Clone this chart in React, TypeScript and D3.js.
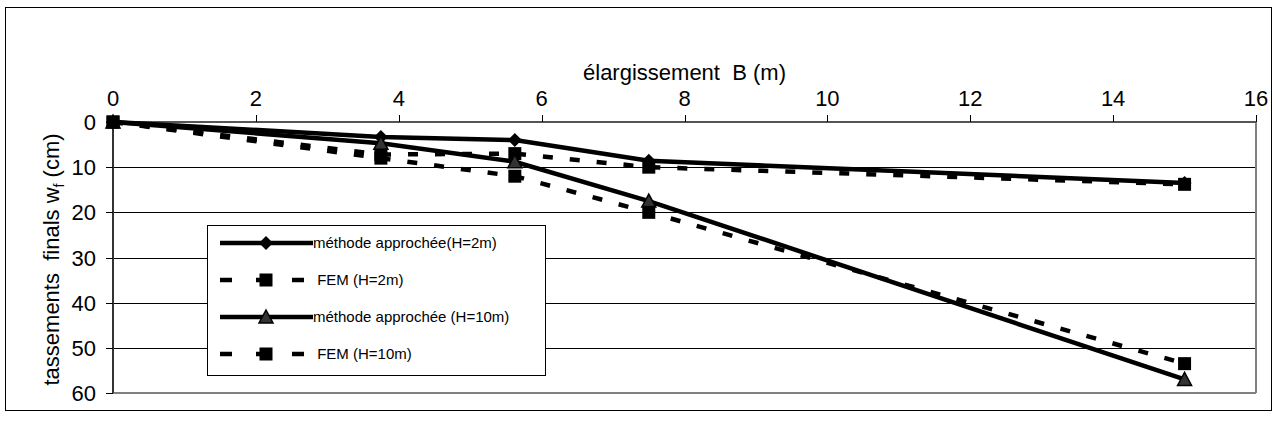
import React from "react";
import * as d3 from "d3";

const widenings = [0, 3.75, 5.625, 7.5, 15];
const approxH2 = [0, 3.3, 4.0, 8.6, 13.5];
const femH2 = [0, 7.2, 7.0, 10.0, 13.8];
const approxH10 = [0, 4.7, 8.8, 17.5, 57];
const femH10 = [0, 8.0, 12.0, 20.0, 53.5];
const xTicks = [0, 2, 4, 6, 8, 10, 12, 14, 16];
const yTicks = [0, 10, 20, 30, 40, 50, 60];
const seriesNames = [
  "méthode approchée(H=2m)",
  " FEM (H=2m)",
  "méthode approchée (H=10m)",
  " FEM (H=10m)",
];

type Series = { name: string; values: number[]; dashed: boolean; marker: string };
const series: Series[] = [
  { name: seriesNames[0], values: approxH2, dashed: false, marker: "diamond" },
  { name: seriesNames[1], values: femH2, dashed: true, marker: "square" },
  { name: seriesNames[2], values: approxH10, dashed: false, marker: "triangle" },
  { name: seriesNames[3], values: femH10, dashed: true, marker: "square" },
];

const W = 1276;
const H = 432;
const plot = { left: 113, right: 1256, top: 122, bottom: 393 };
const FONT = "'Liberation Sans', Arial, sans-serif";

function Marker({ kind, x, y }: { kind: string; x: number; y: number }) {
  if (kind === "diamond") {
    const s = 7;
    return (
      <path
        d={`M${x},${y - s}L${x + s},${y}L${x},${y + s}L${x - s},${y}Z`}
        fill="#000"
      />
    );
  }
  if (kind === "square") {
    const s = 6.5;
    return <rect x={x - s} y={y - s} width={2 * s} height={2 * s} fill="#000" />;
  }
  const w = 7, h = 12;
  return (
    <path
      d={`M${x},${y - h / 2 - 1}L${x + w},${y + h / 2}L${x - w},${y + h / 2}Z`}
      fill="#333"
      stroke="#000"
      strokeWidth={1.5}
    />
  );
}

export default function App() {
  const x = d3.scaleLinear().domain([0, 16]).range([plot.left, plot.right]);
  const y = d3.scaleLinear().domain([0, 60]).range([plot.top, plot.bottom]);
  const line = d3
    .line<number>()
    .x((_, i) => x(widenings[i]))
    .y((d) => y(d));

  const legend = { x: 207, y: 225, w: 338, h: 150 };
  const legendRowY = [243, 280, 317, 354];

  return (
    <svg width={W} height={H} style={{ position: "absolute", left: 0, top: 0 }} fontFamily={FONT}>
      <rect x={0} y={0} width={W} height={H} fill="#fff" />
      <rect x={5.5} y={7.5} width={1266} height={403} fill="none" stroke="#000" strokeWidth={1} />
      {/* gridlines */}
      {yTicks.slice(1, -1).map((t) => (
        <line key={t} x1={plot.left} x2={plot.right} y1={Math.round(y(t)) + 0.5} y2={Math.round(y(t)) + 0.5} stroke="#000" strokeWidth={1} />
      ))}
      {/* plot border right & bottom gray */}
      <line x1={plot.right} x2={plot.right} y1={plot.top} y2={plot.bottom} stroke="#808080" strokeWidth={2} />
      <line x1={plot.left} x2={plot.right} y1={plot.bottom} y2={plot.bottom} stroke="#808080" strokeWidth={2} />
      {/* top x axis */}
      <line x1={plot.left} x2={plot.right} y1={plot.top} y2={plot.top} stroke="#555" strokeWidth={2} />
      {xTicks.map((t) => (
        <g key={t}>
          <line x1={Math.round(x(t)) + 0.5} x2={Math.round(x(t)) + 0.5} y1={plot.top - 7} y2={plot.top} stroke="#000" />
          <text x={x(t)} y={106} textAnchor="middle" fontSize={22}>
            {t}
          </text>
        </g>
      ))}
      {/* left y axis */}
      <line x1={plot.left} x2={plot.left} y1={plot.top} y2={plot.bottom} stroke="#333" strokeWidth={2} />
      {yTicks.map((t) => (
        <g key={t}>
          <line x1={plot.left - 7} x2={plot.left} y1={Math.round(y(t)) + 0.5} y2={Math.round(y(t)) + 0.5} stroke="#000" />
          <text x={96} y={y(t) + 8} textAnchor="end" fontSize={22}>
            {t}
          </text>
        </g>
      ))}
      <text x={(plot.left + plot.right) / 2} y={80} textAnchor="middle" fontSize={22} xmlSpace="preserve">
        élargissement  B (m)
      </text>
      <text transform={`translate(59,${(plot.top + plot.bottom) / 2 + 2}) rotate(-90)`} textAnchor="middle" fontSize={22} xmlSpace="preserve">
        tassements  finals w<tspan fontSize={14} dy={5}>f</tspan>
        <tspan dy={-5}> (cm)</tspan>
      </text>
      {/* series */}
      {series.map((s, si) => (
        <g key={si}>
          <path
            d={line(s.values) || ""}
            fill="none"
            stroke="#000"
            strokeWidth={4.5}
            strokeDasharray={s.dashed ? "10,17" : undefined}
          />
        </g>
      ))}
      {series.map((s, si) => (
        <g key={"m" + si}>
          {s.values.map((v, i) => (
            <Marker key={i} kind={s.marker} x={x(widenings[i])} y={y(v)} />
          ))}
        </g>
      ))}
      {/* legend */}
      <rect x={legend.x + 0.5} y={legend.y + 0.5} width={legend.w} height={legend.h} fill="#fff" stroke="#000" strokeWidth={1} />
      {series.map((s, si) => {
        const ly = legendRowY[si];
        return (
          <g key={"l" + si}>
            <line
              x1={220}
              x2={313}
              y1={ly}
              y2={ly}
              stroke="#000"
              strokeWidth={4.5}
              strokeDasharray={s.dashed ? "12,24" : undefined}
            />
            <Marker kind={s.marker} x={266} y={ly} />
            <text x={313} y={ly + 5} fontSize={15} xmlSpace="preserve">
              {s.name}
            </text>
          </g>
        );
      })}
    </svg>
  );
}
